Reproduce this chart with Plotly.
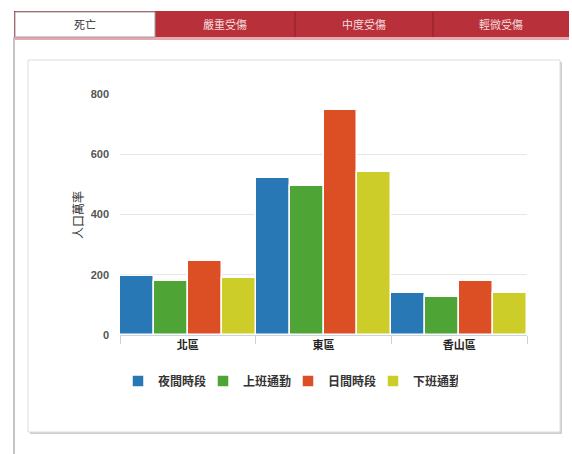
import plotly.graph_objects as go

categories = ["北區", "東區", "香山區"]
series_names = ["夜間時段", "上班通勤", "日間時段", "下班通勤"]
night = [197, 522, 141]
morning = [178, 494, 127]
daytime = [246, 748, 179]
evening = [189, 540, 139]
colors = ["#2878b5", "#4ea535", "#dc4f24", "#cdcd2a"]
tabs = ["死亡", "嚴重受傷", "中度受傷", "輕微受傷"]
y_title = "人口萬率"

W, H = 572, 454
L, R, T, B = 120, 45, 94, 119
PW, PH = W - L - R, H - T - B

def px(x):
    return (x - L) / PW

def py(y):
    return (H - B - y) / PH

fig = go.Figure()
for name, vals, col in zip(series_names, [night, morning, daytime, evening], colors):
    fig.add_trace(go.Bar(
        x=categories, y=vals, name=name,
        marker=dict(color=col, line=dict(color="white", width=1.5)),
    ))

shapes = []
annotations = []
# left page border
shapes.append(dict(type="line", xref="paper", yref="paper", x0=px(14), x1=px(14), y0=py(37), y1=py(454),
                   line=dict(color="#b0b0b0", width=1.5), layer="below"))
# card with shadow
shapes.append(dict(type="rect", xref="paper", yref="paper", x0=px(30), x1=px(562), y0=py(434), y1=py(62),
                   line=dict(width=0), fillcolor="#d0d0d0", layer="below"))
shapes.append(dict(type="rect", xref="paper", yref="paper", x0=px(28), x1=px(560), y0=py(432), y1=py(60),
                   line=dict(color="#dcdcdc", width=1), fillcolor="white", layer="below"))
# tab bar
tab_edges = [14, 155, 295, 433, 569]
shapes.append(dict(type="rect", xref="paper", yref="paper", x0=px(14), x1=px(569), y0=py(38), y1=py(11),
                   line=dict(width=0), fillcolor="#b8303a", layer="below"))
shapes.append(dict(type="rect", xref="paper", yref="paper", x0=px(14), x1=px(569), y0=py(40), y1=py(37),
                   line=dict(width=0), fillcolor="#e7a9ad", layer="below"))
shapes.append(dict(type="rect", xref="paper", yref="paper", x0=px(15), x1=px(155), y0=py(37), y1=py(12),
                   line=dict(color="#a0a0a0", width=1), fillcolor="white", layer="below"))
for e in tab_edges[2:-1]:
    shapes.append(dict(type="line", xref="paper", yref="paper", x0=px(e), x1=px(e), y0=py(37), y1=py(12),
                       line=dict(color="#8e1e26", width=1), layer="below"))
for i, t in enumerate(tabs):
    cx = (tab_edges[i] + tab_edges[i + 1]) / 2
    annotations.append(dict(text=t, x=px(cx), y=py(24), xref="paper", yref="paper", showarrow=False,
                            xanchor="center", yanchor="middle",
                            font=dict(size=11, color="#333333" if i == 0 else "#f6dede",
                                      family="Noto Sans CJK TC")))
annotations.append(dict(text=y_title, x=px(77), y=py(215), xref="paper", yref="paper", showarrow=False,
                        textangle=-90, xanchor="center", yanchor="middle",
                        font=dict(size=12, color="#333333", family="Noto Sans CJK TC")))

fig.update_layout(
    width=W, height=H,
    margin=dict(l=L, r=R, t=T, b=B, pad=0),
    paper_bgcolor="white", plot_bgcolor="white",
    barmode="group", bargap=0.0, bargroupgap=0.0,
    font=dict(family="Noto Sans CJK TC", color="#333333"),
    shapes=shapes, annotations=annotations,
    showlegend=True,
    legend=dict(orientation="h", x=px(288), xanchor="center", y=py(381), yanchor="middle",
                font=dict(size=12, color="#333333", family="Noto Sans CJK TC", weight="bold"),
                itemwidth=30, entrywidth=40, entrywidthmode="pixels",
                traceorder="normal", bgcolor="rgba(0,0,0,0)"),
    xaxis=dict(showgrid=False, showline=True, linecolor="#c8d4e0", linewidth=1,
               ticks="outside", tickson="boundaries", ticklen=8, tickcolor="#c8d4e0",
               tickfont=dict(size=11, color="#222222", family="Noto Sans CJK TC", weight="bold"),
               fixedrange=True),
    yaxis=dict(range=[0, 800], tickvals=[0, 200, 400, 600, 800], showgrid=True, gridcolor="#e6e6e6",
               zeroline=False, showline=False, ticks="", ticklabelstandoff=10,
               tickfont=dict(size=11, color="#555555", family="Liberation Sans", weight="bold"),
               fixedrange=True),
)

fig.write_html("out.html")
